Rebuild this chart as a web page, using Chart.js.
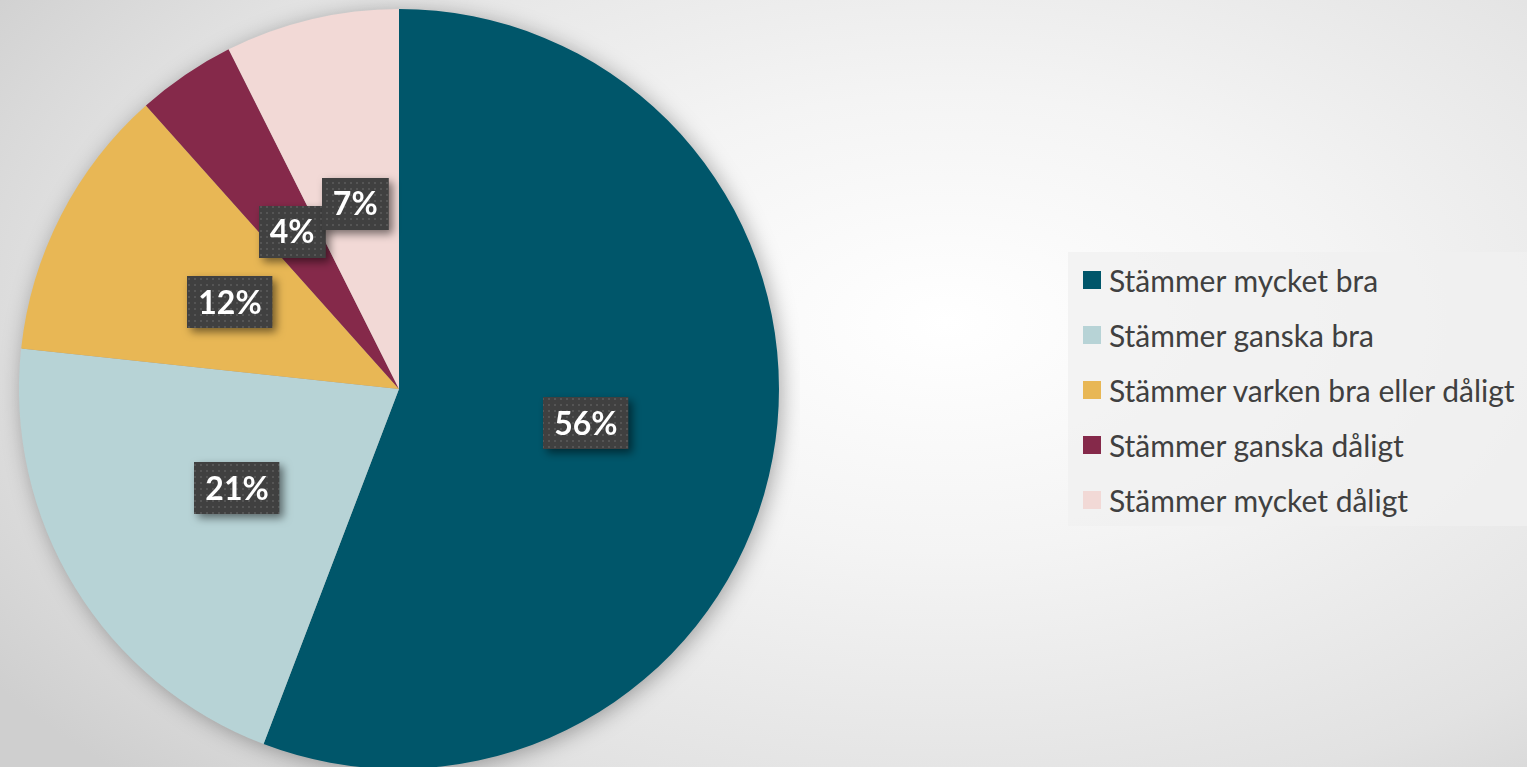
<!DOCTYPE html>
<html>
<head>
<meta charset="utf-8">
<script src="https://cdn.jsdelivr.net/npm/chart.js@4/dist/chart.umd.min.js"></script>
<style>
  html, body { margin:0; padding:0; width:1527px; height:767px; overflow:hidden; }
  body { background: radial-gradient(ellipse 75% 85% at 62% 42%, #ffffff 0%, #f4f4f4 35%, #e2e2e2 75%, #cfcfcf 100%); position:relative; font-family: Lato, "Open Sans", sans-serif; }
  #wrap { position:absolute; left:0; top:0; width:800px; height:780px; }
  #legend { position:absolute; left:1068px; top:252px; width:459px; height:274px; background: rgba(240,240,240,0.75); box-sizing:border-box; padding-top:0px; }
  .row { height:55px; display:flex; align-items:center; color:#404040; font-size:30px; }
  .sw { width:18px; height:18px; margin-left:15px; margin-right:8px; flex:none; }
</style>
</head>
<body>
<div id="wrap"><canvas id="c" width="800" height="780"></canvas></div>
<div id="legend"></div>
<script>
const categories = ["Stämmer mycket bra", "Stämmer ganska bra", "Stämmer varken bra eller dåligt", "Stämmer ganska dåligt", "Stämmer mycket dåligt"];
const values = [55.8, 20.9, 11.7, 4.2, 7.4];
const labels = ["56%", "21%", "12%", "4%", "7%"];
const colors = ["#00566A", "#B7D3D6", "#E8B755", "#85294A", "#F2D9D6"];

// legend
const lg = document.getElementById('legend');
categories.forEach((c, i) => {
  const r = document.createElement('div'); r.className = 'row';
  const s = document.createElement('div'); s.className = 'sw'; s.style.background = colors[i];
  const t = document.createElement('span'); t.textContent = c;
  r.appendChild(s); r.appendChild(t); lg.appendChild(r);
});

// dotted pattern for label boxes
const pc = document.createElement('canvas'); pc.width = 6; pc.height = 6;
const pctx = pc.getContext('2d');
pctx.fillStyle = '#404040'; pctx.fillRect(0,0,6,6);
pctx.fillStyle = '#555555'; pctx.fillRect(2,2,2,2);

const shadowPlugin = {
  id: 'pieShadow',
  beforeDatasetsDraw(chart) {
    const arc = chart.getDatasetMeta(0).data[0];
    if (!arc) return;
    const ctx = chart.ctx;
    ctx.save();
    ctx.shadowColor = 'rgba(0,0,0,0.35)';
    ctx.shadowBlur = 22;
    ctx.shadowOffsetX = 3;
    ctx.shadowOffsetY = 3;
    ctx.fillStyle = '#999';
    ctx.beginPath();
    ctx.arc(arc.x, arc.y, arc.outerRadius - 1, 0, Math.PI * 2);
    ctx.fill();
    ctx.restore();
  }
};

const labelPlugin = {
  id: 'boxLabels',
  afterDatasetsDraw(chart) {
    const ctx = chart.ctx;
    const pat = ctx.createPattern(pc, 'repeat');
    chart.getDatasetMeta(0).data.forEach((arc, i) => {
      const p = arc.tooltipPosition();
      ctx.save();
      ctx.font = 'bold 32px Lato, "Open Sans", sans-serif';
      const w = ctx.measureText(labels[i]).width + 22;
      const h = 52;
      const x = Math.round(p.x - w / 2), y = Math.round(p.y - h / 2);
      ctx.shadowColor = 'rgba(0,0,0,0.5)';
      ctx.shadowBlur = 8;
      ctx.shadowOffsetX = 4;
      ctx.shadowOffsetY = 4;
      ctx.fillStyle = pat;
      ctx.fillRect(x, y, w, h);
      ctx.shadowColor = 'transparent';
      ctx.fillStyle = '#ffffff';
      ctx.textAlign = 'center';
      ctx.textBaseline = 'middle';
      ctx.fillText(labels[i], p.x, p.y + 1);
      ctx.restore();
    });
  }
};

new Chart(document.getElementById('c'), {
  type: 'pie',
  data: {
    labels: categories,
    datasets: [{ data: values, backgroundColor: colors, borderWidth: 0 }]
  },
  options: {
    responsive: false,
    animation: false,
    layout: { padding: { left: 19, right: 21, top: 9, bottom: 11 } },
    plugins: { legend: { display: false }, tooltip: { enabled: false } }
  },
  plugins: [shadowPlugin, labelPlugin]
});
</script>
</body>
</html>
